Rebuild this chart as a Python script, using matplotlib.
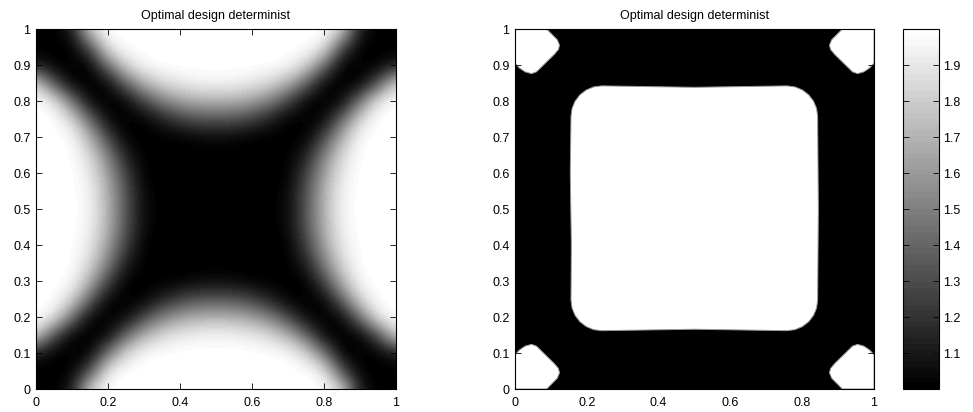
import matplotlib
matplotlib.use("Agg")
import matplotlib.pyplot as plt
import numpy as np
from matplotlib.colors import Normalize

# left panel: design field sampled every 0.05, rows run from y=1 (top) to y=0, cols x=0 -> 1
GRID = [0.0, 0.05, 0.1, 0.15, 0.2, 0.25, 0.3, 0.35, 0.4, 0.45, 0.5,
        0.55, 0.6, 0.65, 0.7, 0.75, 0.8, 0.85, 0.9, 0.95, 1.0]
LEFT_FIELD = [
    [1.0, 1.0, 1.1, 1.85, 2.0, 2.0, 2.0, 2.0, 2.0, 2.0, 2.0, 2.0, 2.0, 2.0, 2.0, 2.0, 2.0, 1.85, 1.1, 1.0, 1.0],
    [1.0, 1.0, 1.0, 1.3, 1.93, 2.0, 2.0, 2.0, 2.0, 2.0, 2.0, 2.0, 2.0, 2.0, 2.0, 2.0, 1.93, 1.3, 1.0, 1.0, 1.0],
    [1.1, 1.0, 1.0, 1.0, 1.45, 1.85, 1.98, 2.0, 2.0, 2.0, 2.0, 2.0, 2.0, 2.0, 1.98, 1.85, 1.45, 1.0, 1.0, 1.0, 1.1],
    [1.85, 1.3, 1.0, 1.0, 1.02, 1.4, 1.7, 1.85, 1.92, 1.95, 1.96, 1.95, 1.92, 1.85, 1.7, 1.4, 1.02, 1.0, 1.0, 1.3, 1.85],
    [2.0, 1.93, 1.45, 1.02, 1.0, 1.02, 1.27, 1.5, 1.62, 1.69, 1.7, 1.69, 1.62, 1.5, 1.27, 1.02, 1.0, 1.02, 1.45, 1.93, 2.0],
    [2.0, 2.0, 1.85, 1.4, 1.02, 1.0, 1.0, 1.12, 1.25, 1.32, 1.33, 1.32, 1.25, 1.12, 1.0, 1.0, 1.02, 1.4, 1.85, 2.0, 2.0],
    [2.0, 2.0, 1.98, 1.7, 1.27, 1.0, 1.0, 1.0, 1.0, 1.03, 1.04, 1.03, 1.0, 1.0, 1.0, 1.0, 1.27, 1.7, 1.98, 2.0, 2.0],
    [2.0, 2.0, 2.0, 1.85, 1.5, 1.12, 1.0, 1.0, 1.0, 1.0, 1.0, 1.0, 1.0, 1.0, 1.0, 1.12, 1.5, 1.85, 2.0, 2.0, 2.0],
    [2.0, 2.0, 2.0, 1.92, 1.62, 1.25, 1.0, 1.0, 1.0, 1.0, 1.0, 1.0, 1.0, 1.0, 1.0, 1.25, 1.62, 1.92, 2.0, 2.0, 2.0],
    [2.0, 2.0, 2.0, 1.95, 1.69, 1.32, 1.03, 1.0, 1.0, 1.0, 1.0, 1.0, 1.0, 1.0, 1.03, 1.32, 1.69, 1.95, 2.0, 2.0, 2.0],
    [2.0, 2.0, 2.0, 1.96, 1.7, 1.33, 1.04, 1.0, 1.0, 1.0, 1.0, 1.0, 1.0, 1.0, 1.04, 1.33, 1.7, 1.96, 2.0, 2.0, 2.0],
    [2.0, 2.0, 2.0, 1.95, 1.69, 1.32, 1.03, 1.0, 1.0, 1.0, 1.0, 1.0, 1.0, 1.0, 1.03, 1.32, 1.69, 1.95, 2.0, 2.0, 2.0],
    [2.0, 2.0, 2.0, 1.92, 1.62, 1.25, 1.0, 1.0, 1.0, 1.0, 1.0, 1.0, 1.0, 1.0, 1.0, 1.25, 1.62, 1.92, 2.0, 2.0, 2.0],
    [2.0, 2.0, 2.0, 1.85, 1.5, 1.12, 1.0, 1.0, 1.0, 1.0, 1.0, 1.0, 1.0, 1.0, 1.0, 1.12, 1.5, 1.85, 2.0, 2.0, 2.0],
    [2.0, 2.0, 1.98, 1.7, 1.27, 1.0, 1.0, 1.0, 1.0, 1.03, 1.04, 1.03, 1.0, 1.0, 1.0, 1.0, 1.27, 1.7, 1.98, 2.0, 2.0],
    [2.0, 2.0, 1.85, 1.4, 1.02, 1.0, 1.0, 1.12, 1.25, 1.32, 1.33, 1.32, 1.25, 1.12, 1.0, 1.0, 1.02, 1.4, 1.85, 2.0, 2.0],
    [2.0, 1.93, 1.45, 1.02, 1.0, 1.02, 1.27, 1.5, 1.62, 1.69, 1.7, 1.69, 1.62, 1.5, 1.27, 1.02, 1.0, 1.02, 1.45, 1.93, 2.0],
    [1.85, 1.3, 1.0, 1.0, 1.02, 1.4, 1.7, 1.85, 1.92, 1.95, 1.96, 1.95, 1.92, 1.85, 1.7, 1.4, 1.02, 1.0, 1.0, 1.3, 1.85],
    [1.1, 1.0, 1.0, 1.0, 1.45, 1.85, 1.98, 2.0, 2.0, 2.0, 2.0, 2.0, 2.0, 2.0, 1.98, 1.85, 1.45, 1.0, 1.0, 1.0, 1.1],
    [1.0, 1.0, 1.0, 1.3, 1.93, 2.0, 2.0, 2.0, 2.0, 2.0, 2.0, 2.0, 2.0, 2.0, 2.0, 2.0, 1.93, 1.3, 1.0, 1.0, 1.0],
    [1.0, 1.0, 1.1, 1.85, 2.0, 2.0, 2.0, 2.0, 2.0, 2.0, 2.0, 2.0, 2.0, 2.0, 2.0, 2.0, 2.0, 1.85, 1.1, 1.0, 1.0],
]

# right panel: material (value 1) everywhere except the white holes (value 2)
SOLID, VOID = 1.0, 2.0
HOLE_X = [0.843, 0.8401, 0.8316, 0.8181, 0.8005, 0.78, 0.758, 0.5,
          0.241, 0.219, 0.1985, 0.1809, 0.1674, 0.1589, 0.156, 0.154, 0.157,
          0.156, 0.1589, 0.1674, 0.1809, 0.1985, 0.219, 0.241, 0.5,
          0.758, 0.78, 0.8005, 0.8181, 0.8316, 0.8401, 0.843, 0.845]
HOLE_Y = [0.757, 0.779, 0.7995, 0.8171, 0.8306, 0.8391, 0.842, 0.838,
          0.842, 0.8391, 0.8306, 0.8171, 0.7995, 0.779, 0.757, 0.6, 0.4,
          0.247, 0.225, 0.2045, 0.1869, 0.1734, 0.1649, 0.162, 0.166,
          0.162, 0.1649, 0.1734, 0.1869, 0.2045, 0.225, 0.247, 0.5]
CORNER_BL_X = [0.0, 0.0, 0.012, 0.028, 0.046, 0.06, 0.11, 0.121, 0.124, 0.118, 0.1, 0.088]
CORNER_BL_Y = [0.0, 0.095, 0.108, 0.119, 0.124, 0.119, 0.07, 0.057, 0.045, 0.03, 0.012, 0.0]
CORNER_TL_X = [0.0, 0.0, 0.012, 0.028, 0.046, 0.06, 0.11, 0.121, 0.124, 0.118, 0.1, 0.088]
CORNER_TL_Y = [1.0, 0.905, 0.892, 0.881, 0.876, 0.881, 0.93, 0.943, 0.955, 0.97, 0.988, 1.0]
CORNER_TR_X = [1.0, 1.0, 0.988, 0.972, 0.954, 0.94, 0.89, 0.879, 0.876, 0.882, 0.9, 0.912]
CORNER_TR_Y = [1.0, 0.905, 0.892, 0.881, 0.876, 0.881, 0.93, 0.943, 0.955, 0.97, 0.988, 1.0]
CORNER_BR_X = [1.0, 1.0, 0.988, 0.972, 0.954, 0.94, 0.89, 0.879, 0.876, 0.882, 0.9, 0.912]
CORNER_BR_Y = [0.0, 0.095, 0.108, 0.119, 0.124, 0.119, 0.07, 0.057, 0.045, 0.03, 0.012, 0.0]

TITLE = "Optimal design determinist"
CB_TICKS = [1.1, 1.2, 1.3, 1.4, 1.5, 1.6, 1.7, 1.8, 1.9]

plt.rcParams["font.family"] = ["Liberation Sans", "DejaVu Sans"]
plt.rcParams["font.size"] = 9

cmap = plt.get_cmap("gray", 64)
norm = Normalize(1.0, 2.0)


def style(ax):
    ax.set_xlim(0, 1); ax.set_ylim(0, 1)
    ax.set_xticks([0, 0.2, 0.4, 0.6, 0.8, 1])
    ax.set_xticklabels(["0", "0.2", "0.4", "0.6", "0.8", "1"])
    ax.set_yticks(np.arange(11) / 10)
    ax.set_yticklabels(["0"] + [f"0.{i}" for i in range(1, 10)] + ["1"])
    ax.tick_params(direction="in", top=True, right=True, length=4, width=0.6,
                   labelsize=9, pad=4)
    ax.tick_params(axis="x", pad=6)
    for s in ax.spines.values():
        s.set_linewidth(0.8)
    ax.set_title(TITLE, fontsize=9, pad=7)


fig = plt.figure(figsize=(9.73, 4.12), dpi=100)

ax1 = fig.add_axes([36 / 973, 23 / 412, 360 / 973, 360 / 412])
h = 0.025
ax1.imshow(np.array(LEFT_FIELD), cmap=cmap, norm=norm, interpolation="bicubic",
           extent=[GRID[0] - h, GRID[-1] + h, GRID[0] - h, GRID[-1] + h], aspect="auto")
style(ax1)

ax2 = fig.add_axes([515 / 973, 23 / 412, 359 / 973, 360 / 412])
ax2.set_facecolor(cmap(norm(SOLID)))
for xs, ys in [(HOLE_X, HOLE_Y), (CORNER_BL_X, CORNER_BL_Y), (CORNER_TL_X, CORNER_TL_Y),
               (CORNER_TR_X, CORNER_TR_Y), (CORNER_BR_X, CORNER_BR_Y)]:
    # faint grey rim stands in for the smeared interface of the density field
    ax2.fill(xs, ys, facecolor=cmap(norm(VOID)), edgecolor=cmap(norm(1.6)), lw=0.7)
style(ax2)

cax = fig.add_axes([903 / 973, 23 / 412, 36 / 973, 360 / 412])
cb = fig.colorbar(plt.cm.ScalarMappable(norm=norm, cmap=cmap), cax=cax)
cb.set_ticks(CB_TICKS)
cb.set_ticklabels([f"{t:.1f}" for t in CB_TICKS])
cax.tick_params(direction="in", left=True, right=True, length=4, width=0.6,
                labelsize=9, pad=3)
cb.outline.set_linewidth(0.8)

fig.savefig("out.png", dpi=100)
